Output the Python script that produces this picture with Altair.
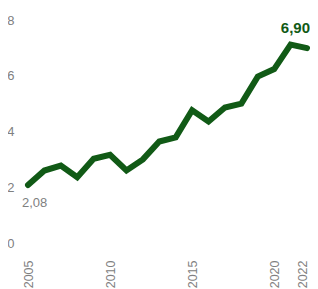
import altair as alt
import pandas as pd

years = list(range(2005, 2023))
values = [2.08, 2.6, 2.78, 2.36, 3.02, 3.16, 2.6, 3.0, 3.64, 3.79, 4.76, 4.36, 4.86, 5.0, 5.97, 6.24, 7.12, 6.99]
label_years = [2005, 2022]
label_texts = ["2,08", "6,90"]
x_ticks = [2005, 2010, 2015, 2020, 2022]
y_ticks = [0, 2, 4, 6, 8]

GREEN = "#115a16"
GRAY = "#808080"
FONT = "Liberation Sans"

df = pd.DataFrame({"year": years, "value": values})
lab = pd.DataFrame({"year": label_years, "text": label_texts,
                    "value": [values[0], values[-1]]})

x = alt.X("year:Q", scale=alt.Scale(domain=[2005, 2022], nice=False, zero=False),
          axis=alt.Axis(values=x_ticks, format="d", labelAngle=-90, domain=False,
                        ticks=False, grid=False, title=None, labelColor=GRAY,
                        labelFontSize=12.5, labelFont=FONT, labelPadding=17,
                        labelAlign="right", labelBaseline="middle",
                        labelOffset={"condition": {"test": "datum.value == 2022", "value": -5},
                                     "value": 0}))
y = alt.Y("value:Q", scale=alt.Scale(domain=[0, 8], nice=False),
          axis=alt.Axis(values=y_ticks, domain=False, ticks=False, grid=False,
                        title=None, labelColor=GRAY, labelFontSize=13,
                        labelFont=FONT, labelPadding=14))

line = alt.Chart(df).mark_line(color=GREEN, strokeWidth=6, strokeCap="round",
                               strokeJoin="miter").encode(x=x, y=y)

first = alt.Chart(lab.iloc[[0]]).mark_text(
    align="left", baseline="middle", dx=-6, dy=18, fontSize=13,
    font=FONT, color=GRAY).encode(x="year:Q", y="value:Q", text="text:N")
last = alt.Chart(lab.iloc[[1]]).mark_text(
    align="right", baseline="middle", dx=3, dy=-20, fontSize=15,
    fontWeight="bold", font=FONT, color=GREEN).encode(x="year:Q", y="value:Q", text="text:N")

chart = (line + first + last).properties(
    width=279, height=223,
    autosize=alt.AutoSizeParams(type="none"),
    padding={"left": 20, "top": 12, "right": 3, "bottom": 60},
).configure_view(stroke=None)

chart.save("out.html", embed_options={"renderer": "svg", "actions": False})
